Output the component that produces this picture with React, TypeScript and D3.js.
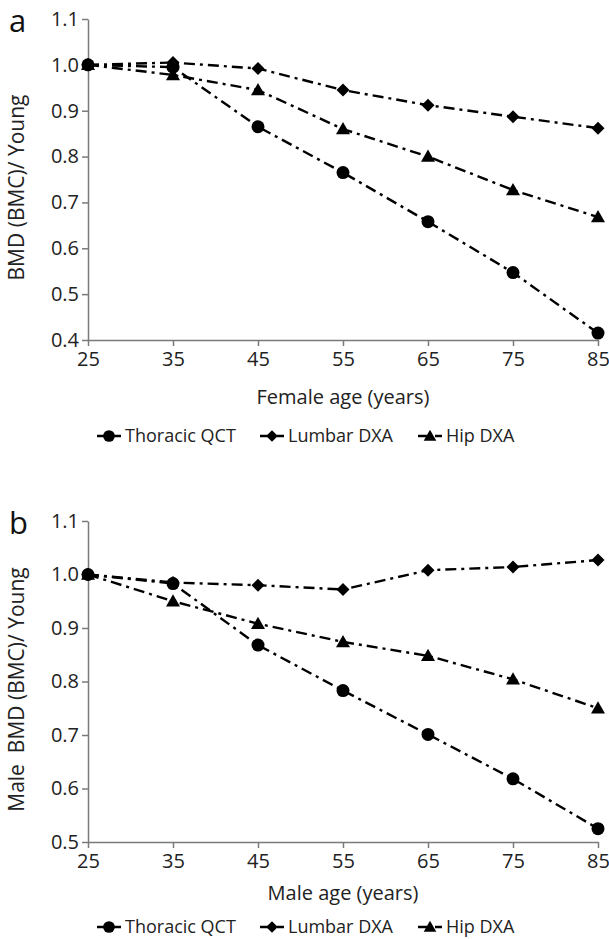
import { useEffect, useRef } from "react";
import * as d3 from "d3";

const ages = [25, 35, 45, 55, 65, 75, 85];
const seriesNames = ["Thoracic QCT", "Lumbar DXA", "Hip DXA"];
const markers = ["circle", "diamond", "triangle"];

const femaleThoracic = [1.0, 0.995, 0.865, 0.765, 0.658, 0.547, 0.415];
const femaleLumbar = [1.0, 1.005, 0.992, 0.945, 0.912, 0.887, 0.862];
const femaleHip = [1.0, 0.978, 0.945, 0.86, 0.8, 0.727, 0.668];

const maleThoracic = [1.0, 0.983, 0.868, 0.783, 0.701, 0.618, 0.525];
const maleLumbar = [1.0, 0.985, 0.98, 0.972, 1.008, 1.014, 1.027];
const maleHip = [1.0, 0.95, 0.908, 0.874, 0.848, 0.804, 0.75];

const femaleTicks = [0.4, 0.5, 0.6, 0.7, 0.8, 0.9, 1.0, 1.1];
const maleTicks = [0.5, 0.6, 0.7, 0.8, 0.9, 1.0, 1.1];

const FONT = "'Open Sans', 'Noto Sans', sans-serif";
const DASH = "11,5,3,5";

function drawMarker(g: any, type: string, x: number, y: number, s = 1) {
  if (type === "circle") {
    g.append("circle").attr("cx", x).attr("cy", y).attr("r", 6.5 * s).attr("fill", "#000");
  } else if (type === "diamond") {
    const r = 6.5 * s;
    g.append("path")
      .attr("d", `M${x},${y - r}L${x + r},${y}L${x},${y + r}L${x - r},${y}Z`)
      .attr("fill", "#000");
  } else {
    const r = 7 * s;
    g.append("path")
      .attr("d", `M${x},${y - r}L${x + r},${y + r * 0.75}L${x - r},${y + r * 0.75}Z`)
      .attr("fill", "#000");
  }
}

function drawPanel(svg: any, cfg: any) {
  const { top, bottom, left, right, domain, ticks, series, letter, yTitle, xTitle } = cfg;
  const g = svg.append("g");
  const x = d3.scaleLinear().domain([25, 85]).range([left, right]);
  const y = d3.scaleLinear().domain(domain).range([bottom, top]);

  // axes
  const yAxis = g.append("g").attr("transform", `translate(${left},0)`)
    .call(d3.axisLeft(y).tickValues(ticks).tickFormat(d3.format(".1f")).tickSize(6).tickSizeOuter(0));
  const xAxis = g.append("g").attr("transform", `translate(0,${bottom})`)
    .call(d3.axisBottom(x).tickValues(ages).tickSize(6).tickSizeOuter(0));
  [yAxis, xAxis].forEach((a) => {
    a.select(".domain").attr("stroke", "#7a7a7a").attr("stroke-width", 1.5);
    a.selectAll(".tick line").attr("stroke", "#7a7a7a").attr("stroke-width", 1.5);
    a.selectAll(".tick text").attr("fill", "#222").attr("font-size", 20).attr("font-family", FONT);
  });
  yAxis.selectAll(".tick text").attr("x", -9);
  xAxis.selectAll(".tick text").attr("y", 12);

  // letter
  g.append("text").attr("x", 9).attr("y", top + 13).attr("font-size", 31)
    .attr("font-family", FONT).attr("fill", "#111").text(letter);

  // titles
  g.append("text").attr("transform", `translate(24,${(top + bottom) / 2 + 8}) rotate(-90)`)
    .attr("text-anchor", "middle").attr("font-size", 21).attr("font-family", FONT)
    .attr("fill", "#222").style("white-space", "pre").text(yTitle);
  g.append("text").attr("x", (left + right) / 2).attr("y", bottom + cfg.xTitleOffset)
    .attr("text-anchor", "middle").attr("font-size", 20).attr("font-family", FONT)
    .attr("fill", "#222").text(xTitle);

  const line = d3.line<number>().x((_, i) => x(ages[i])).y((d) => y(d));
  series.forEach((vals: number[], si: number) => {
    g.append("path").datum(vals).attr("d", line).attr("fill", "none")
      .attr("stroke", "#000").attr("stroke-width", 2.4).attr("stroke-dasharray", DASH);
    vals.forEach((v, i) => drawMarker(g, markers[si], x(ages[i]), y(v)));
  });

  // legend
  const legY = cfg.legendY;
  const itemX = cfg.legendX;
  seriesNames.forEach((name, i) => {
    const lx = itemX[i];
    g.append("line").attr("x1", lx).attr("x2", lx + 24).attr("y1", legY).attr("y2", legY)
      .attr("stroke", "#000").attr("stroke-width", 2.4).attr("stroke-dasharray", "9,3,2,3");
    drawMarker(g, markers[i], lx + 12, legY, 0.9);
    g.append("text").attr("x", lx + 28).attr("y", legY + 6).attr("font-size", 18)
      .attr("font-family", FONT).attr("fill", "#222").text(name);
  });
}

export default function App() {
  const ref = useRef<SVGSVGElement>(null);
  useEffect(() => {
    const svg = d3.select(ref.current);
    svg.selectAll("*").remove();
    drawPanel(svg, {
      top: 19, bottom: 340, left: 88, right: 598,
      domain: [0.4, 1.1], ticks: femaleTicks,
      series: [femaleThoracic, femaleLumbar, femaleHip],
      letter: "a", yTitle: "BMD (BMC)/ Young", xTitle: "Female age (years)",
      xTitleOffset: 64, legendY: 436, legendX: [97, 260, 418],
    });
    drawPanel(svg, {
      top: 521, bottom: 842, left: 88, right: 598,
      domain: [0.5, 1.1], ticks: maleTicks,
      series: [maleThoracic, maleLumbar, maleHip],
      letter: "b", yTitle: "Male  BMD (BMC)/ Young", xTitle: "Male age (years)",
      xTitleOffset: 58, legendY: 927, legendX: [97, 260, 418],
    });
  }, []);
  return (
    <svg ref={ref} width={609} height={939}
      style={{ position: "absolute", left: 0, top: 0, background: "#fff" }} />
  );
}
